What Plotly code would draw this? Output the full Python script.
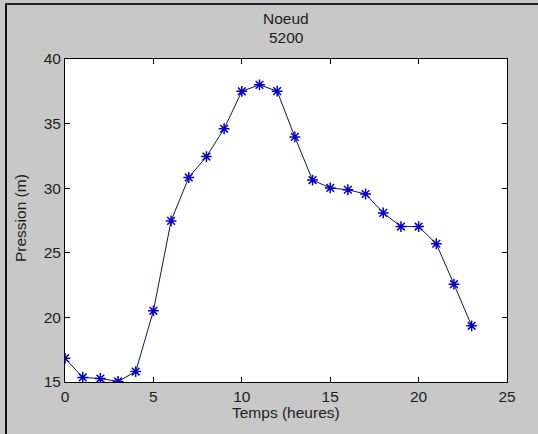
import plotly.graph_objects as go

hours = list(range(24))
pression = [16.84, 15.35, 15.27, 15.04, 15.81, 20.51, 27.47, 30.83, 32.45, 34.6,
            37.5, 38.0, 37.51, 33.97, 30.63, 30.02, 29.88, 29.55, 28.09, 27.03,
            27.03, 25.7, 22.57, 19.35]
x_ticks = [0, 5, 10, 15, 20, 25]
y_ticks = [15, 20, 25, 30, 35, 40]
title_lines = ["Noeud", "5200"]
x_title = "Temps (heures)"
y_title = "Pression (m)"

W, H = 538, 434
L, R, T, B = 65, 507, 59, 382

fig = go.Figure()
fig.add_trace(go.Scatter(
    x=hours, y=pression, mode="lines+markers",
    line=dict(color="#14145a", width=1),
    marker=dict(symbol="asterisk-open", size=9, color="#0000cc",
                line=dict(color="#0000cc", width=1.5)),
    showlegend=False,
))

font = dict(family="Liberation Sans, Arial, sans-serif", size=15.5, color="#1e1e1e")

axis_common = dict(
    showgrid=False, zeroline=False, showline=True, linecolor="black", linewidth=1,
    mirror="ticks", ticks="inside", ticklen=5, tickcolor="black", tickwidth=1,
    tickfont=font,
)

fig.update_layout(
    width=W, height=H,
    margin=dict(l=L, r=W - R, t=T, b=H - B, pad=0),
    paper_bgcolor="#c8c8c8", plot_bgcolor="white",
    font=font,
    xaxis=dict(range=[0, 25], tickvals=x_ticks, ticktext=[str(v) for v in x_ticks], **axis_common),
    yaxis=dict(range=[15, 40], tickvals=y_ticks, ticktext=[str(v) for v in y_ticks], **axis_common),
)

pw, ph = R - L, B - T
def px(xp):
    return (xp - L) / pw
def py(yp):
    return (B - yp) / ph

# title lines and axis labels as annotations
for txt, yc in zip(title_lines, [18, 37]):
    fig.add_annotation(text=txt, xref="paper", yref="paper", x=px(286), y=py(yc),
                       xanchor="center", yanchor="middle", showarrow=False, font=font)
fig.add_annotation(text=x_title, xref="paper", yref="paper", x=px(286), y=py(412),
                   xanchor="center", yanchor="middle", showarrow=False, font=font)
fig.add_annotation(text=y_title, xref="paper", yref="paper", x=px(20), y=py(218),
                   xanchor="center", yanchor="middle", showarrow=False, textangle=-90, font=font)

# outer frame: dark line on left and top
fig.add_shape(type="line", xref="paper", yref="paper",
              x0=px(6), x1=px(6), y0=py(4), y1=py(H + 2),
              line=dict(color="#111111", width=2))
fig.add_shape(type="line", xref="paper", yref="paper",
              x0=px(5), x1=px(W + 2), y0=py(4), y1=py(4),
              line=dict(color="#222222", width=2))

fig.write_html("out.html")
